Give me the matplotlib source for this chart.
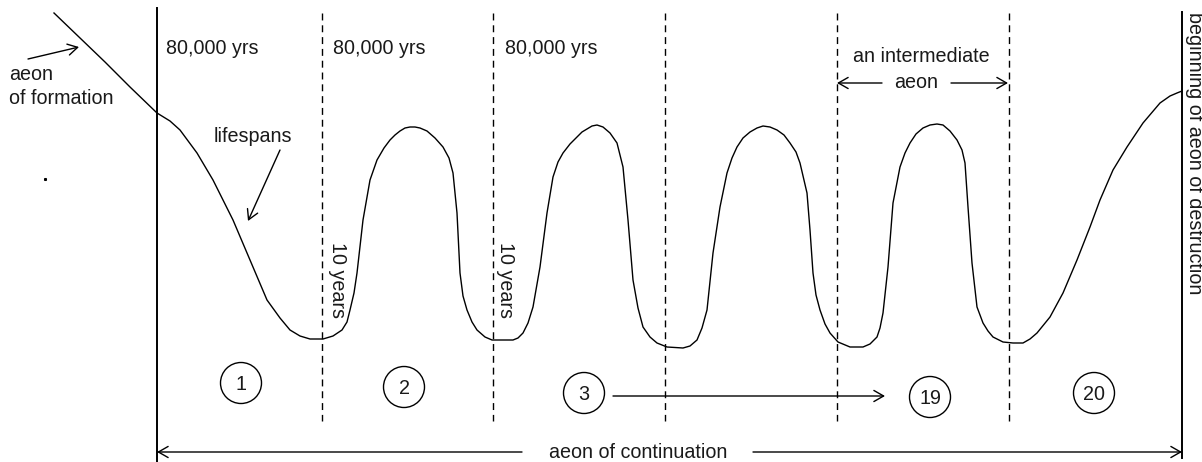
import matplotlib.pyplot as plt
from matplotlib.patches import Ellipse

plt.rcParams['font.family'] = ['Liberation Sans', 'DejaVu Sans']

# lifespan curve (pixel units, y downwards)
curve_x = [54, 80, 105, 130, 157, 170, 180, 197, 213, 233, 250, 267, 280, 290, 300,
           310, 323, 333, 342, 347, 350, 354, 357, 363, 370, 377, 384, 390, 395, 400,
           405, 410, 415, 420, 427, 435, 443, 449, 453, 457, 460, 463, 467, 472, 477,
           485, 492, 513, 518, 523, 528, 533, 540, 547, 553, 558, 563, 570, 577, 582,
           587, 592, 597, 603, 610, 617, 623, 628, 633, 638, 643, 650, 657, 667, 683,
           690, 697, 702, 707, 713, 720, 727, 732, 737, 743, 750, 757, 763, 770, 777,
           784, 790, 796, 800, 807, 810, 813, 816, 820, 825, 830, 838, 850, 863, 870,
           877, 880, 883, 888, 893, 900, 905, 910, 916, 923, 930, 937, 943, 950, 957,
           962, 965, 968, 972, 977, 983, 988, 993, 1003, 1013, 1023, 1030, 1037, 1050,
           1063, 1077, 1090, 1100, 1113, 1127, 1143, 1160, 1170, 1177, 1182]
curve_y = [13, 38, 62, 87, 113, 121, 130, 153, 180, 220, 260, 300, 318, 330, 336,
           339, 339, 336, 330, 322, 310, 293, 273, 220, 180, 160, 148, 140, 135, 131,
           128, 127, 127, 128, 131, 138, 147, 158, 173, 213, 273, 296, 310, 322, 330,
           337, 340, 340, 338, 333, 323, 307, 267, 213, 177, 162, 153, 144, 137, 132,
           129, 126, 125, 127, 133, 143, 167, 220, 280, 308, 327, 337, 343, 347, 348,
           346, 340, 328, 310, 253, 207, 173, 158, 147, 138, 132, 128, 126, 127, 130,
           135, 143, 152, 163, 193, 230, 273, 295, 310, 324, 333, 342, 347, 347, 344,
           337, 328, 313, 267, 203, 167, 153, 143, 134, 128, 125, 124, 125, 131, 140,
           150, 163, 207, 263, 307, 323, 331, 337, 342, 343, 343, 339, 333, 317,
           293, 260, 227, 200, 170, 147, 123, 103, 96, 93, 91]

aeon_bounds = [157, 1182]
dividers = [322, 493, 665, 837, 1009]
period_labels = ['80,000 yrs', '80,000 yrs', '80,000 yrs']
period_x = [166, 333, 505]
ten_year_x = [337, 506]
circle_labels = ['1', '2', '3', '19', '20']
circle_x = [241, 404, 584, 930, 1094]
circle_y = [383, 387, 393, 397, 393]

fig = plt.figure(figsize=(12.02, 4.62), dpi=100)
ax = fig.add_axes([0, 0, 1, 1])
ax.set_xlim(0, 1202)
ax.set_ylim(462, 0)
ax.axis('off')

fs = 14.2
tc = '#1a1a1a'
arrow = dict(arrowstyle='->,head_length=0.7,head_width=0.4', lw=1.0, color='black',
             shrinkA=0, shrinkB=0)

# the curve
ax.plot(curve_x, curve_y, color='black', lw=1.0, solid_joinstyle='round')

# solid boundaries
ax.plot([aeon_bounds[0]] * 2, [8, 462], color='black', lw=1.4)
ax.plot([aeon_bounds[1]] * 2, [12, 458], color='black', lw=1.4)

# dashed dividers
for x in dividers:
    ax.plot([x, x], [13, 421], color='black', lw=1.0, dashes=(5, 3.5))

for lbl, x in zip(period_labels, period_x):
    ax.text(x, 48, lbl, fontsize=fs, ha='left', va='center', color=tc)

for x in ten_year_x:
    ax.text(x, 280, '10 years', fontsize=fs, rotation=-90, ha='center', va='center',
            color=tc)

# aeon of formation
ax.text(9, 74, 'aeon', fontsize=fs, ha='left', va='center', color=tc)
ax.text(9, 99, 'of formation', fontsize=fs, ha='left', va='center', color=tc)
ax.annotate('', xy=(79, 47), xytext=(28, 59), arrowprops=arrow)
ax.plot([45], [179], marker='s', ms=1.2, color='black')

# lifespans
ax.text(253, 137, 'lifespans', fontsize=fs, ha='center', va='center', color=tc)
ax.annotate('', xy=(248, 221), xytext=(280, 150), arrowprops=arrow)

# intermediate aeon
ax.text(921, 57, 'an intermediate', fontsize=fs, ha='center', va='center', color=tc)
ax.text(916, 83, 'aeon', fontsize=fs, ha='center', va='center', color=tc)
ax.annotate('', xy=(837, 83), xytext=(882, 83), arrowprops=arrow)
ax.annotate('', xy=(1008, 83), xytext=(951, 83), arrowprops=arrow)

# right edge label
ax.text(1185, 12, 'beginning of aeon of destruction', fontsize=fs, rotation=-90,
        ha='left', va='top', color=tc)

# circled numbers
for lbl, x, y in zip(circle_labels, circle_x, circle_y):
    ax.add_patch(Ellipse((x, y), 41, 41, fill=False, lw=1.0, color='black'))
    ax.text(x, y + 1, lbl, fontsize=fs, ha='center', va='center', color=tc)
ax.annotate('', xy=(885, 396), xytext=(613, 396), arrowprops=arrow)

# aeon of continuation
ax.text(638, 452, 'aeon of continuation', fontsize=fs, ha='center', va='center',
        color=tc)
ax.annotate('', xy=(aeon_bounds[0], 452), xytext=(522, 452), arrowprops=arrow)
ax.annotate('', xy=(aeon_bounds[1], 452), xytext=(753, 452), arrowprops=arrow)

fig.savefig('out.png', dpi=100)
